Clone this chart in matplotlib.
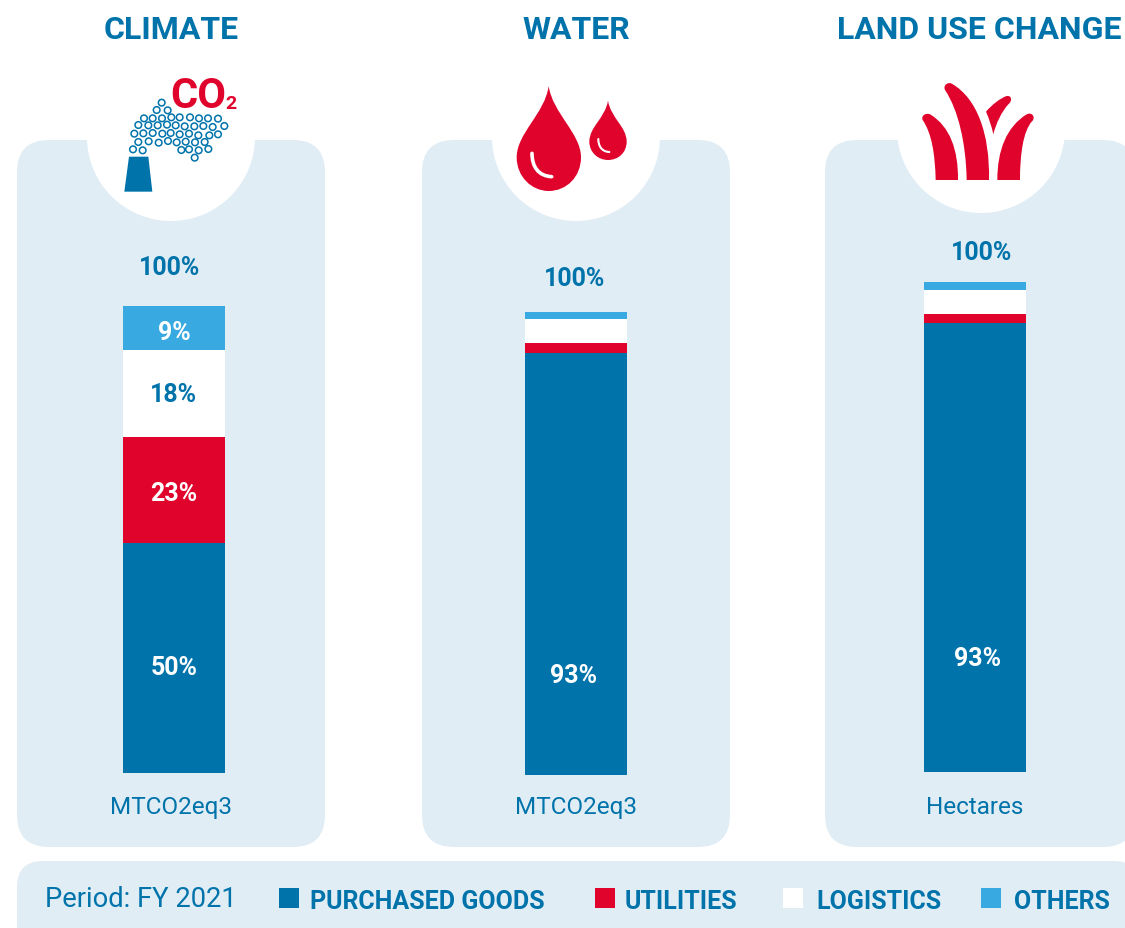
import matplotlib
matplotlib.use('Agg')
from matplotlib import pyplot as plt
from matplotlib.patches import FancyBboxPatch, Circle, Polygon, PathPatch, Rectangle
from matplotlib.path import Path

plt.rcParams['font.family'] = ['Roboto', 'DejaVu Sans']

BLUE = '#0073AB'
RED = '#E0042D'
SKY = '#38A9E1'
PALE = '#E1EDF5'

titles = ['CLIMATE', 'WATER', 'LAND USE CHANGE']
units = ['MTCO2eq3', 'MTCO2eq3', 'Hectares']
series = ['PURCHASED GOODS', 'UTILITIES', 'LOGISTICS', 'OTHERS']
series_colors = [BLUE, RED, 'white', SKY]

# segment heights as drawn in the picture (they differ a little from the printed labels)
purchased = [49.3, 91.1, 91.6]
utilities = [22.7, 2.2, 1.8]
logistics = [18.6, 5.2, 4.9]
others = [9.4, 1.5, 1.7]

label_purchased = ['50%', '93%', '93%']
label_utilities = ['23%', '', '']
label_logistics = ['18%', '', '']
label_others = ['9%', '', '']

# label heights in pixels, the labels are not centred in the segments
label_y = [[667, 493, 394, 332], [675, 0, 0, 0], [658, 0, 0, 0]]

W, H = 1125, 929
fig = plt.figure(figsize=(W / 100, H / 100), dpi=100)
ax = fig.add_axes([0, 0, 1, 1])
ax.set_xlim(0, W)
ax.set_ylim(H - 1, -1)
ax.axis('off')


def panel(x0, y0, x1, y1, r):
    p = FancyBboxPatch((x0 + r, y0 + r), x1 - x0 - 2 * r, y1 - y0 - 2 * r,
                       boxstyle='round,pad=%d,rounding_size=%d' % (r, r),
                       fc=PALE, ec='none', zorder=1)
    ax.add_patch(p)


def zoomed(points, ox, oy):
    return [(ox + a / 3, oy + b / 3) for a, b in points]


def curve(points, ox, oy, **kw):
    pts = zoomed(points, ox, oy)
    codes = [Path.MOVETO] + [Path.CURVE4] * (len(pts) - 1)
    ax.add_patch(PathPatch(Path(pts, codes), **kw))


panel_x = [(17, 325), (422, 730), (825, 1135)]
circle_x = [171, 576, 981]
circle_r = [84, 84, 84]
circle_y = [137, 137, 129]
for (a, b), cx, cy, r in zip(panel_x, circle_x, circle_y, circle_r):
    panel(a, 140, b, 847, 32)
    ax.add_patch(Circle((cx, cy), r, fc='white', ec='none', zorder=2))

title_x = [171, 576, 979]
for x, t in zip(title_x, titles):
    ax.text(x, 29, t, color=BLUE, fontsize=23, fontweight='bold', ha='center', va='center')

# bars, each one gets its own axes over the panel
bar_x = [(123, 225), (525, 627), (924, 1026)]
bar_y = [(306, 773), (312, 775), (282, 772)]
label_x = [174, 574, 978]
total_x = [170, 575, 982]
total_y = [267, 278, 252]
unit_x = [171, 576, 975]
for i in range(3):
    x0, x1 = bar_x[i]
    y0, y1 = bar_y[i]
    bx = fig.add_axes([x0 / W, 1 - (y1 + 1) / H, (x1 - x0) / W, (y1 - y0) / H], zorder=3)
    bx.set_xlim(-0.5, 0.5)
    bx.set_ylim(0, 100)
    bx.axis('off')
    bottom = 0
    parts = [purchased[i], utilities[i], logistics[i], others[i]]
    labels = [label_purchased[i], label_utilities[i], label_logistics[i], label_others[i]]
    for j, (v, c, lab) in enumerate(zip(parts, series_colors, labels)):
        bx.bar(0, v, bottom=bottom, width=1, color=c, linewidth=0)
        if lab:
            tc = BLUE if c == 'white' else 'white'
            bx.text(label_x[i], label_y[i][j], lab, color=tc, fontsize=18, fontweight='bold',
                    ha='center', va='center', transform=ax.transData)
        bottom += v
    ax.text(total_x[i], total_y[i], '100%', color=BLUE, fontsize=18, fontweight='bold',
            ha='center', va='center', zorder=4)
    ax.text(unit_x[i], 807, units[i], color=BLUE, fontsize=17.5, ha='center', va='center', zorder=4)

# legend strip
panel(17, 861, 1140, 960, 26)
ax.text(45, 899, 'Period: FY 2021', color=BLUE, fontsize=19.7, ha='left', va='center', zorder=4)
legend_box = [279, 595, 783, 981]
legend_text = [310, 625, 816, 1014]
for bx0, tx, s, c in zip(legend_box, legend_text, series, series_colors):
    ax.add_patch(Rectangle((bx0, 888), 20, 20, fc=c, ec='none', zorder=4))
    ax.text(tx, 901, s, color=BLUE, fontsize=18, fontweight='bold', ha='left', va='center', zorder=4)

# CO2 icon
bubbles = [(185, 128), (170, 150), (203, 151), (132, 175), (158, 175), (186, 175), (214, 172),
           (239, 172), (270, 172), (297, 175), (324, 175), (354, 176), (115, 195), (145, 196),
           (173, 196), (201, 194), (227, 196), (254, 199), (283, 199), (310, 198), (338, 201),
           (373, 198), (103, 221), (130, 220), (158, 219), (187, 221), (212, 219), (239, 223),
           (267, 221), (295, 226), (328, 226), (354, 223), (115, 246), (146, 244), (176, 248),
           (204, 243), (230, 247), (257, 245), (285, 247), (314, 246), (99, 268), (128, 271),
           (244, 270), (267, 268), (296, 271), (325, 267), (284, 293)]
for xy in zoomed(bubbles, 100, 60):
    ax.add_patch(Circle(xy, 3.3, fc='white', ec=BLUE, lw=1.1, zorder=4))
ax.add_patch(Polygon(zoomed([(87, 290), (145, 290), (157, 395), (73, 395)], 100, 60),
                     fc=BLUE, ec='none', zorder=4))
ax.text(170, 95, 'CO', color=RED, fontsize=30, fontweight='bold', ha='left', va='center', zorder=4)
ax.text(225, 103, '2', color=RED, fontsize=14, fontweight='bold', ha='left', va='center', zorder=4)

# drops
big_drop = [(176, 48), (165, 130), (80, 190), (80, 262), (80, 320), (125, 363), (176, 363),
            (230, 363), (273, 320), (273, 262), (273, 190), (188, 130), (176, 48)]
small_drop = [(354, 92), (345, 145), (298, 170), (298, 215), (298, 248), (325, 270), (354, 270),
              (385, 270), (410, 248), (410, 215), (410, 170), (363, 145), (354, 92)]
curve(big_drop, 490, 70, fc=RED, ec='none', zorder=4)
curve(small_drop, 490, 70, fc=RED, ec='none', zorder=4)
curve([(126, 250), (126, 290), (145, 318), (185, 320)], 490, 70, fc='none', ec='white', lw=2.6, zorder=5, capstyle='round')
curve([(325, 207), (325, 228), (335, 245), (358, 246)], 490, 70, fc='none', ec='white', lw=1.5, zorder=5, capstyle='round')

# grass
blades = [
    [(137, 330), (135, 250), (125, 190), (98, 150), (92, 138), (108, 126), (122, 134),
     (180, 170), (205, 240), (204, 330), (190, 330), (150, 330), (137, 330)],
    [(230, 330), (228, 220), (205, 120), (165, 60), (158, 45), (175, 34), (187, 42),
     (260, 85), (300, 190), (297, 330), (280, 330), (245, 330), (230, 330)],
    [(288, 125), (305, 105), (330, 85), (350, 78), (365, 76), (368, 92), (355, 103),
     (335, 125), (318, 160), (310, 193), (305, 170), (298, 148), (288, 125)],
    [(322, 330), (322, 240), (350, 170), (410, 133), (428, 124), (438, 145), (425, 155),
     (400, 185), (390, 250), (390, 330), (375, 330), (335, 330), (322, 330)],
]
for b in blades:
    curve(b, 890, 70, fc=RED, ec='none', zorder=4)

fig.savefig('out.png', dpi=100)
